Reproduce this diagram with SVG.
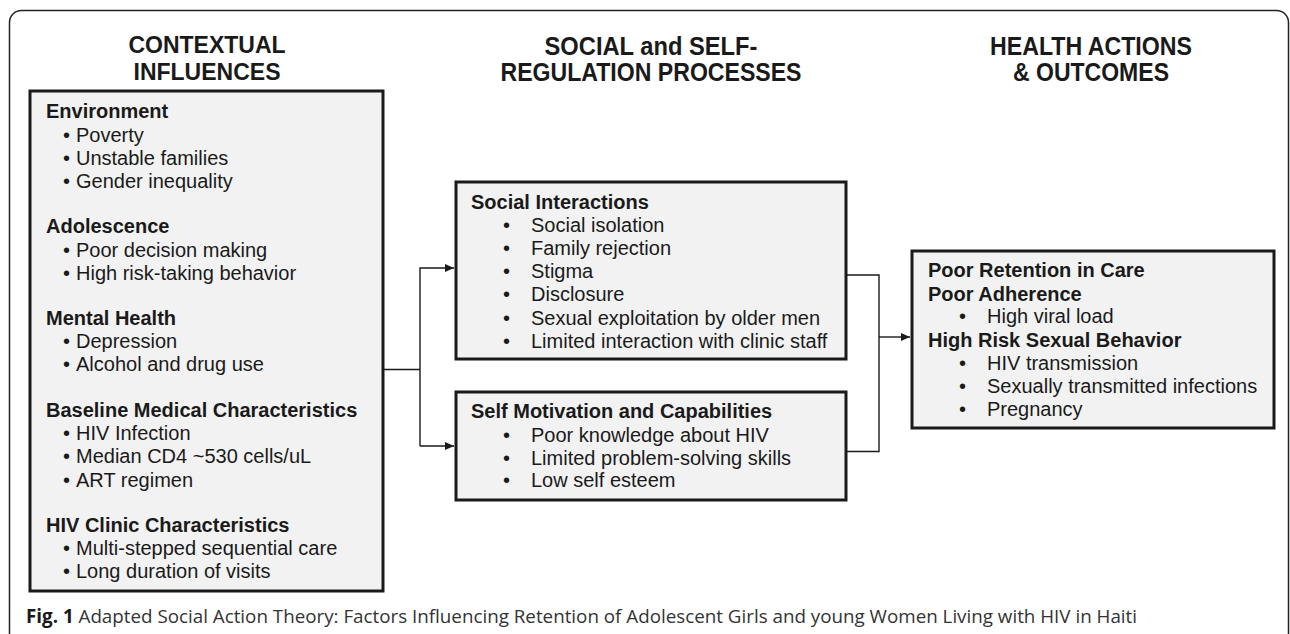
<svg xmlns="http://www.w3.org/2000/svg" width="1290" height="634" viewBox="0 0 1290 634">
<style>
  .box { fill: #f2f2f2; stroke: #1a1a1a; stroke-width: 3; }
  .frame { fill: none; stroke: #222; stroke-width: 1.5; }
  .conn { fill: none; stroke: #1a1a1a; stroke-width: 1.4; }
  .t { font-family: "Liberation Sans", Arial, Helvetica, sans-serif; font-size: 20px; fill: #1a1a1a; }
  .b { font-weight: bold; }
  .title { font-family: "Liberation Sans", Arial, Helvetica, sans-serif; font-size: 23px; font-weight: bold; fill: #1a1a1a; text-anchor: middle; }
  .ntitle { font-family: "Liberation Sans", Arial, Helvetica, sans-serif; font-size: 25px; font-weight: bold; fill: #1a1a1a; text-anchor: middle; }
  .cap { font-family: "Open Sans", "Noto Sans", sans-serif; font-size: 18.8px; fill: #333; }
</style>
<defs>
  <marker id="arr" markerWidth="10" markerHeight="10" refX="9" refY="5" orient="auto" markerUnits="userSpaceOnUse">
    <path d="M0,1 L9,5 L0,9 Z" fill="#1a1a1a"/>
  </marker>
</defs>
<rect x="0" y="0" width="1290" height="634" fill="#fff"/>
<rect class="frame" x="9.5" y="10.5" width="1279" height="660" rx="12"/>

<g id="titles">
  <text class="title" x="207" y="53">CONTEXTUAL</text>
  <text class="title" x="207" y="80">INFLUENCES</text>
  <text class="ntitle" x="651" y="55" textLength="213" lengthAdjust="spacingAndGlyphs">SOCIAL and SELF-</text>
  <text class="ntitle" x="651" y="81" textLength="301" lengthAdjust="spacingAndGlyphs">REGULATION PROCESSES</text>
  <text class="ntitle" x="1091" y="55" textLength="202" lengthAdjust="spacingAndGlyphs">HEALTH ACTIONS</text>
  <text class="ntitle" x="1091" y="81" textLength="156" lengthAdjust="spacingAndGlyphs">&amp; OUTCOMES</text>
</g>

<g id="contextual">
  <rect class="box" x="30" y="91" width="353" height="500"/>
  <text class="t b" x="46" y="118">Environment</text>
  <text class="t" x="63" y="142">•<tspan x="76">Poverty</tspan></text>
  <text class="t" x="63" y="165">•<tspan x="76">Unstable families</tspan></text>
  <text class="t" x="63" y="188">•<tspan x="76">Gender inequality</tspan></text>
  <text class="t b" x="46" y="233">Adolescence</text>
  <text class="t" x="63" y="257">•<tspan x="76">Poor decision making</tspan></text>
  <text class="t" x="63" y="280">•<tspan x="76">High risk-taking behavior</tspan></text>
  <text class="t b" x="46" y="325">Mental Health</text>
  <text class="t" x="63" y="348">•<tspan x="76">Depression</tspan></text>
  <text class="t" x="63" y="371">•<tspan x="76">Alcohol and drug use</tspan></text>
  <text class="t b" x="46" y="417">Baseline Medical Characteristics</text>
  <text class="t" x="63" y="440">•<tspan x="76">HIV Infection</tspan></text>
  <text class="t" x="63" y="463">•<tspan x="76">Median CD4 ~530 cells/uL</tspan></text>
  <text class="t" x="63" y="487">•<tspan x="76">ART regimen</tspan></text>
  <text class="t b" x="46" y="532">HIV Clinic Characteristics</text>
  <text class="t" x="63" y="555">•<tspan x="76">Multi-stepped sequential care</tspan></text>
  <text class="t" x="63" y="578">•<tspan x="76">Long duration of visits</tspan></text>
</g>

<g id="social">
  <rect class="box" x="456" y="182" width="390" height="177"/>
  <text class="t b" x="471" y="209">Social Interactions</text>
  <text class="t" x="503" y="232">•<tspan x="531">Social isolation</tspan></text>
  <text class="t" x="503" y="255">•<tspan x="531">Family rejection</tspan></text>
  <text class="t" x="503" y="278">•<tspan x="531">Stigma</tspan></text>
  <text class="t" x="503" y="301">•<tspan x="531">Disclosure</tspan></text>
  <text class="t" x="503" y="325">•<tspan x="531">Sexual exploitation by older men</tspan></text>
  <text class="t" x="503" y="348">•<tspan x="531">Limited interaction with clinic staff</tspan></text>
</g>

<g id="self">
  <rect class="box" x="456" y="392" width="390" height="108"/>
  <text class="t b" x="471" y="418">Self Motivation and Capabilities</text>
  <text class="t" x="503" y="442">•<tspan x="531">Poor knowledge about HIV</tspan></text>
  <text class="t" x="503" y="465">•<tspan x="531">Limited problem-solving skills</tspan></text>
  <text class="t" x="503" y="487">•<tspan x="531">Low self esteem</tspan></text>
</g>

<g id="outcomes">
  <rect class="box" x="912" y="251" width="362" height="177"/>
  <text class="t b" x="928" y="277">Poor Retention in Care</text>
  <text class="t b" x="928" y="301">Poor Adherence</text>
  <text class="t" x="959" y="323">•<tspan x="987">High viral load</tspan></text>
  <text class="t b" x="928" y="347">High Risk Sexual Behavior</text>
  <text class="t" x="959" y="370">•<tspan x="987">HIV transmission</tspan></text>
  <text class="t" x="959" y="393">•<tspan x="987">Sexually transmitted infections</tspan></text>
  <text class="t" x="959" y="416">•<tspan x="987">Pregnancy</tspan></text>
</g>

<g id="connectors">
  <path class="conn" d="M383,369.5 H420"/>
  <path class="conn" d="M420,446 V268 H454" marker-end="url(#arr)"/>
  <path class="conn" d="M420,446 H454" marker-end="url(#arr)"/>
  <path class="conn" d="M846,275 H879 V451.5 H846"/>
  <path class="conn" d="M879,337 H910" marker-end="url(#arr)"/>
</g>

<g id="caption">
  <text class="cap" x="26" y="623"><tspan font-weight="bold" fill="#1a1a1a">Fig. 1</tspan> Adapted Social Action Theory: Factors Influencing Retention of Adolescent Girls and young Women Living with HIV in Haiti</text>
</g>
</svg>
